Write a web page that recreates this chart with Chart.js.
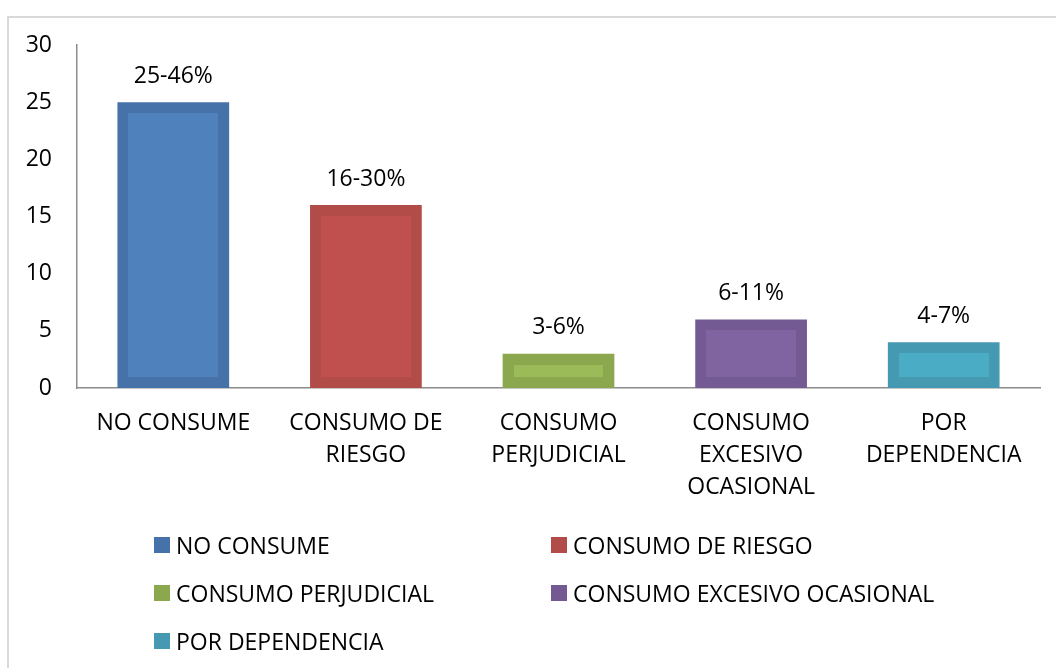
<!DOCTYPE html>
<html>
<head>
<meta charset="utf-8">
<script src="https://cdn.jsdelivr.net/npm/chart.js@4.4.1/dist/chart.umd.min.js"></script>
<style>
  body { margin: 0; background: #fff; }
  #wrap { position: relative; width: 1056px; height: 668px; overflow: hidden; }
  #frame { position: absolute; left: 7px; top: 16px; right: 0; bottom: 0;
    border-top: 2px solid #d9d9d9; border-left: 2px solid #d9d9d9; }
  #chart { position: absolute; left: 0; top: 0; }
  #legend { position: absolute; left: 154px; top: 521px;
    display: grid; grid-template-columns: 397px auto; grid-auto-rows: 48px;
    font-family: "Open Sans", sans-serif; font-size: 23px; color: #000; }
  .item { display: flex; align-items: center; white-space: nowrap; }
  .box { width: 16px; height: 16px; margin-right: 6px; }
</style>
</head>
<body>
<div id="wrap">
  <div id="frame"></div>
  <canvas id="chart" width="1056" height="668"></canvas>
  <div id="legend"></div>
</div>
<script>
// data
const categories = ["NO CONSUME", "CONSUMO DE RIESGO", "CONSUMO PERJUDICIAL", "CONSUMO EXCESIVO OCASIONAL", "POR DEPENDENCIA"];
const tickLabels = [["NO CONSUME"], ["CONSUMO DE", "RIESGO"], ["CONSUMO", "PERJUDICIAL"], ["CONSUMO", "EXCESIVO", "OCASIONAL"], ["POR", "DEPENDENCIA"]];
const values = [25, 16, 3, 6, 4];
const barLabels = ["25-46%", "16-30%", "3-6%", "6-11%", "4-7%"];
const yTicks = [0, 5, 10, 15, 20, 25, 30];

const fillColors = ["#4f81bd", "#c0504d", "#9bbb59", "#8064a2", "#4bacc6"];
const edgeColors = ["#4671a9", "#b24c49", "#8ba84f", "#735a92", "#4599b1"];

const FONT = '"Open Sans", sans-serif';
const INSET = 11;

// lighter inner panel + value label for each bar
const barDecorPlugin = {
  id: "barDecor",
  afterDatasetsDraw(chart) {
    const ctx = chart.ctx;
    const meta = chart.getDatasetMeta(0);
    ctx.save();
    meta.data.forEach((bar, i) => {
      const left = Math.round(bar.x - bar.width / 2) + INSET;
      const right = Math.round(bar.x + bar.width / 2) - INSET;
      const top = Math.round(bar.y) + INSET;
      const bottom = Math.round(bar.base) - INSET;
      if (bottom > top) {
        ctx.fillStyle = fillColors[i];
        ctx.fillRect(left, top, right - left, bottom - top);
      }
    });
    ctx.font = "23px " + FONT;
    ctx.fillStyle = "#000";
    ctx.textAlign = "center";
    ctx.textBaseline = "middle";
    meta.data.forEach((bar, i) => {
      ctx.fillText(barLabels[i], bar.x, bar.y - 26);
    });
    ctx.restore();
  }
};

new Chart(document.getElementById("chart"), {
  type: "bar",
  data: {
    labels: tickLabels,
    datasets: [{
      label: "Consumo",
      data: values,
      backgroundColor: edgeColors,
      borderWidth: 0,
      inflateAmount: 0,
      barPercentage: 0.58,
      categoryPercentage: 1
    }]
  },
  options: {
    responsive: false,
    devicePixelRatio: 1,
    animation: false,
    layout: { padding: { top: 45, right: 16, bottom: 160, left: 0 } },
    plugins: {
      legend: { display: false },
      tooltip: { enabled: false }
    },
    scales: {
      x: {
        z: 1,
        grid: { display: false, drawTicks: false },
        border: { display: true, color: "#8c8c8c", width: 1.5 },
        ticks: { color: "#000", padding: 19, maxRotation: 0, autoSkip: false,
          font: { family: FONT, size: 23, lineHeight: 32 / 23 } },
        afterFit(scale) { scale.height = 120; }
      },
      y: {
        min: 0,
        max: 30,
        afterBuildTicks(scale) { scale.ticks = yTicks.map(v => ({ value: v })); },
        grid: { display: false, drawTicks: false },
        border: { display: true, color: "#8c8c8c", width: 1.5 },
        ticks: { color: "#000", padding: 25, font: { family: FONT, size: 23 } },
        afterFit(scale) { scale.width = 77; }
      }
    }
  },
  plugins: [barDecorPlugin]
});

// legend in two columns
const legend = document.getElementById("legend");
categories.forEach((name, i) => {
  const item = document.createElement("div");
  item.className = "item";
  item.innerHTML = '<span class="box" style="background:' + edgeColors[i] + '"></span>' + name;
  legend.appendChild(item);
});
</script>
</body>
</html>
